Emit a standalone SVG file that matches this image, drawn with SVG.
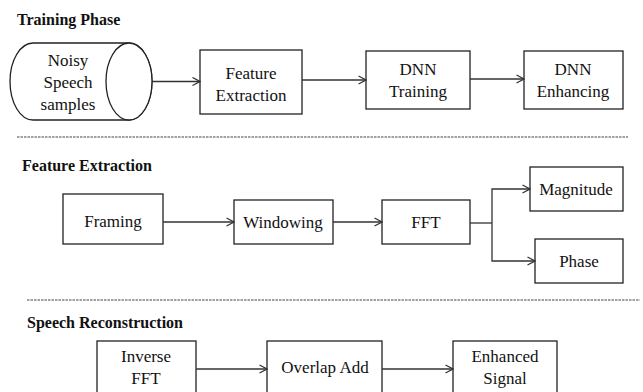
<svg xmlns="http://www.w3.org/2000/svg" width="643" height="392" viewBox="0 0 643 392">
<defs>
<marker id="arr" viewBox="0 0 10 10" refX="9.5" refY="5" markerWidth="10" markerHeight="10" markerUnits="userSpaceOnUse" orient="auto">
<path d="M2,1 L9.5,5 L2,9" fill="none" stroke="#333" stroke-width="1.3"/>
</marker>
</defs>
<style>
.box{fill:#fff;stroke:#222;stroke-width:1.3}
.t{font-family:"Liberation Serif","Times New Roman",serif;font-size:17px;fill:#111;text-anchor:middle}
.h{font-family:"Liberation Serif","Times New Roman",serif;font-size:16px;font-weight:bold;fill:#111}
.c{fill:none;stroke:#333;stroke-width:1.3}
.d{stroke:#444;stroke-width:1;stroke-dasharray:2.5 1}
</style>
<rect width="643" height="392" fill="#fff"/>
<g id="headings">
<text class="h" x="17" y="25">Training Phase</text>
<text class="h" x="22" y="171">Feature Extraction</text>
<text class="h" x="27" y="328">Speech Reconstruction</text>
</g>
<g id="separators">
<line class="d" x1="17" y1="137" x2="628" y2="137"/>
<line class="d" x1="27" y1="300" x2="640" y2="300"/>
</g>
<g id="noisy">
<path class="box" d="M33,43 L129,43 A23,38.5 0 0 1 129,120 L33,120 A23,38.5 0 0 1 33,43 Z"/>
<ellipse class="box" cx="129" cy="81.5" rx="23" ry="38.5"/>
<text class="t" x="68" y="66">Noisy</text>
<text class="t" x="68" y="88">Speech</text>
<text class="t" x="68" y="110">samples</text>
</g>
<g id="feature">
<rect class="box" x="200" y="50" width="102" height="64"/>
<text class="t" x="251" y="79">Feature</text>
<text class="t" x="251" y="101">Extraction</text>
</g>
<g id="dnntrain">
<rect class="box" x="366" y="51" width="104" height="58"/>
<text class="t" x="418" y="75">DNN</text>
<text class="t" x="418" y="97">Training</text>
</g>
<g id="dnnenh">
<rect class="box" x="524" y="51" width="99" height="58"/>
<text class="t" x="573" y="75">DNN</text>
<text class="t" x="573" y="97">Enhancing</text>
</g>
<g id="framing">
<rect class="box" x="63" y="194" width="100" height="50"/>
<text class="t" x="113" y="227">Framing</text>
</g>
<g id="windowing">
<rect class="box" x="234" y="200" width="99" height="44"/>
<text class="t" x="283" y="228">Windowing</text>
</g>
<g id="fft">
<rect class="box" x="382" y="200" width="88" height="44"/>
<text class="t" x="426" y="228">FFT</text>
</g>
<g id="magnitude">
<rect class="box" x="530" y="167" width="93" height="44"/>
<text class="t" x="576" y="195">Magnitude</text>
</g>
<g id="phase">
<rect class="box" x="535" y="239" width="88" height="44"/>
<text class="t" x="579" y="267">Phase</text>
</g>
<g id="ifft">
<rect class="box" x="97" y="341" width="99" height="60"/>
<text class="t" x="146" y="362">Inverse</text>
<text class="t" x="146" y="384">FFT</text>
</g>
<g id="overlap">
<rect class="box" x="267" y="341" width="115" height="60"/>
<text class="t" x="325" y="373">Overlap Add</text>
</g>
<g id="enhanced">
<rect class="box" x="453" y="341" width="104" height="60"/>
<text class="t" x="505" y="362">Enhanced</text>
<text class="t" x="505" y="384">Signal</text>
</g>
<g id="connectors">
<line class="c" x1="152" y1="81.5" x2="200" y2="81.5" marker-end="url(#arr)"/>
<line class="c" x1="302" y1="80" x2="366" y2="80" marker-end="url(#arr)"/>
<line class="c" x1="470" y1="79" x2="524" y2="79" marker-end="url(#arr)"/>
<line class="c" x1="163" y1="222" x2="234" y2="222" marker-end="url(#arr)"/>
<line class="c" x1="333" y1="222" x2="382" y2="222" marker-end="url(#arr)"/>
<polyline class="c" points="470,223 492,223"/>
<polyline class="c" points="492,223 492,189 530,189" marker-end="url(#arr)"/>
<polyline class="c" points="492,223 492,261 535,261" marker-end="url(#arr)"/>
<line class="c" x1="196" y1="369" x2="267" y2="369" marker-end="url(#arr)"/>
<line class="c" x1="382" y1="369" x2="453" y2="369" marker-end="url(#arr)"/>
</g>
</svg>
